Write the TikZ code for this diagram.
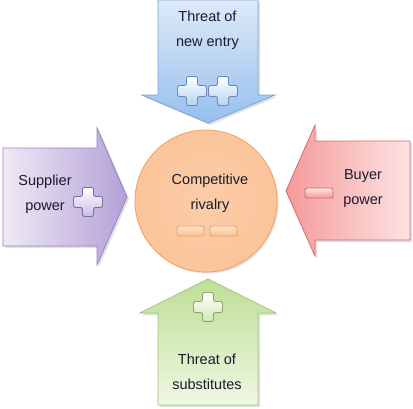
\documentclass[tikz,border=0pt]{standalone}
\usepackage{fontspec}
\setmainfont{Liberation Sans}
\definecolor{blueL}{HTML}{DDE9F8}
\definecolor{blueD}{HTML}{98BFEE}
\definecolor{blueB}{HTML}{7AA3DA}
\definecolor{purL}{HTML}{EFEAF6}
\definecolor{purD}{HTML}{B3A0D8}
\definecolor{purB}{HTML}{9682C0}
\definecolor{redL}{HTML}{FDE3E3}
\definecolor{redD}{HTML}{F59A9A}
\definecolor{redB}{HTML}{D46A6A}
\definecolor{grnL}{HTML}{F0F8E3}
\definecolor{grnD}{HTML}{BEDE95}
\definecolor{grnB}{HTML}{A2C578}
\definecolor{orgF}{HTML}{FBC49A}
\definecolor{orgB}{HTML}{F2A05E}
\definecolor{txt}{HTML}{1A1A2E}
\begin{document}
\begin{tikzpicture}[x=1pt,y=-1pt,
  lbl/.style={align=center,font=\fontsize{14.5}{25}\selectfont,text=txt,inner sep=0pt},
  shade/.style={fill=black,fill opacity=0.12,draw=none},
  sign/.style={rounded corners=2pt,line width=0.9pt}]
\useasboundingbox (0,0) rectangle (413,408);
% shadows
\path[shade] (160,2) -- (260,2) -- (260,97) -- (277,97) -- (210,125) -- (144,97) -- (160,97) -- cycle;
\path[shade] (5,150) -- (99,150) -- (99,130) -- (129,199) -- (99,267) -- (99,248) -- (5,248) -- cycle;
\path[shade] (412,143) -- (317,143) -- (317,127) -- (288,193) -- (317,258) -- (317,242) -- (412,242) -- cycle;
\path[shade] (160,407) -- (160,315) -- (142,315) -- (210,281) -- (278,315) -- (260,315) -- (260,407) -- cycle;
% top arrow
\draw[blueB,line width=0.8pt,top color=blueL,bottom color=blueD]
  (158,0) -- (258,0) -- (258,95) -- (275,95) -- (208,123) -- (142,95) -- (158,95) -- cycle;
% left arrow
\draw[purB,line width=0.8pt,left color=purL,right color=purD]
  (3,148) -- (97,148) -- (97,128) -- (127,197) -- (97,265) -- (97,246) -- (3,246) -- cycle;
% right arrow
\draw[redB,line width=0.8pt,left color=redD,right color=redL]
  (410,141) -- (315,141) -- (315,125) -- (286,191) -- (315,256) -- (315,240) -- (410,240) -- cycle;
% bottom arrow
\draw[grnB,line width=0.8pt,top color=grnD,bottom color=grnL]
  (158,405) -- (158,313) -- (140,313) -- (208,279) -- (276,313) -- (258,313) -- (258,405) -- cycle;
% circle
\fill[black,opacity=0.12] (207.5,202.5) circle[radius=71];
\draw[orgB,line width=0.8pt,inner color=orgF!85!white,outer color=orgF] (206,201) circle[radius=71];
% plus signs
\foreach \cx/\cy/\c/\b in {192/91/blueD/blueB,223/91/blueD/blueB,88/202/purD/purB,208/307/grnD/grnB}{
  \draw[sign,\b!85!black,top color=white,bottom color=\c!70!white]
    (\cx-5.5,\cy-14.5) -- (\cx+5.5,\cy-14.5) -- (\cx+5.5,\cy-5.5) -- (\cx+14.5,\cy-5.5) -- (\cx+14.5,\cy+5.5)
    -- (\cx+5.5,\cy+5.5) -- (\cx+5.5,\cy+14.5) -- (\cx-5.5,\cy+14.5) -- (\cx-5.5,\cy+5.5) -- (\cx-14.5,\cy+5.5)
    -- (\cx-14.5,\cy-5.5) -- (\cx-5.5,\cy-5.5) -- cycle;
}
% minus signs
\draw[sign,redB,top color=redL,bottom color=redD] (305,188) rectangle (333,198);
\draw[sign,orgB,top color=orgF!50!white,bottom color=orgF!90!orgB] (177,226) rectangle (204,236);
\draw[sign,orgB,top color=orgF!50!white,bottom color=orgF!90!orgB] (210,226) rectangle (237,236);
% labels
\node[lbl] (newentry) at (207.5,30) {Threat of\\new entry};
\node[lbl] (supplier) at (45,194) {Supplier\\power};
\node[lbl] (rivalry) at (210,193) {Competitive\\rivalry};
\node[lbl] (buyer) at (363,188.5) {Buyer\\power};
\node[lbl] (subst) at (207,372) {Threat of\\substitutes};
\end{tikzpicture}
\end{document}
